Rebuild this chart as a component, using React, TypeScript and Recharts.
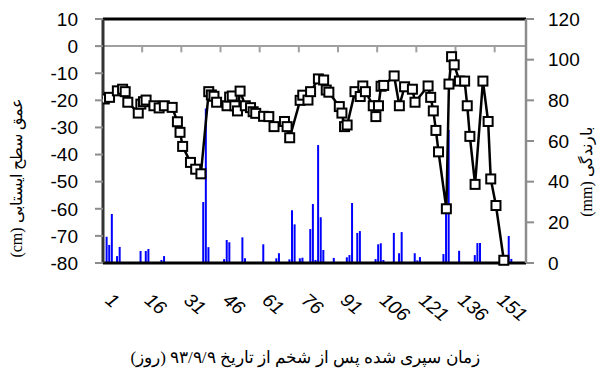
import { ComposedChart, Line, Bar, XAxis, YAxis, ReferenceLine } from "recharts";

// عمق سطح ایستابی (cm) — روزهای اندازه‌گیری و مقدار
const DEPTH_DAYS = [
  1, 3, 6, 8, 9, 10, 14, 15, 16, 17, 20, 22, 24, 27, 29, 30, 31, 34, 36, 38,
  41, 42, 43, 44, 48, 49, 50, 51, 52, 53, 55, 57, 58, 59, 62, 64, 66, 70, 71, 72,
  76, 77, 79, 80, 83, 85, 86, 87, 91, 92, 93, 94, 97, 99, 100, 101, 104, 105, 106, 107,
  108, 112, 114, 116, 119, 120, 125, 126, 127, 128, 129, 132, 133, 134, 135, 137, 139, 140, 141, 143,
  146, 148, 149, 151, 154,
];
const DEPTH = [
  -19.5, -18.9, -16.5, -15.9, -16.8, -20.7, -24.7, -21.4, -20.5, -19.9, -22, -22.8, -22, -22.6, -27.9, -31.8, -37, -42.9, -45.4, -47.1,
  -16.8, -18, -18.5, -20.7, -22, -18.8, -18.4, -22, -23.9, -16.6, -22, -22.7, -24.2, -24.8, -25.9, -26, -29.7, -27.8, -29.7, -33.8,
  -20, -18.1, -19.9, -16.8, -12.1, -12.5, -16.2, -17, -22.3, -24.7, -29.7, -29.1, -16.8, -18.6, -14.7, -16.8, -22, -26, -22, -14.8,
  -14.5, -11, -22, -15, -15.9, -20.7, -14.7, -18.9, -23.9, -31.1, -39, -60, -14, -3.9, -6.9, -12.9, -12.9, -22, -33.3, -51,
  -12.9, -27.8, -49, -58.8, -79,
];

// بارندگی (mm)
const RAIN_DAYS = [
  2, 3, 4, 6, 7, 11, 15, 17, 18, 23, 24, 35, 39, 40, 41, 45, 47, 48, 49, 54,
  55, 59, 62, 67, 68, 71, 72, 73, 74, 76, 77, 78, 80, 81, 82, 83, 84, 85, 89, 92,
  94, 95, 96, 98, 99, 105, 106, 107, 108, 109, 111, 112, 114, 115, 120, 121, 122, 125, 131, 132,
  133, 137, 141, 143, 144, 145, 156, 157,
];
const RAIN = [
  12.9, 8.9, 24.1, 3.4, 7.9, 0.4, 5.9, 5.9, 6.9, 1.5, 3.4, 0.4, 30, 76, 7.8, 0.4, 1.9, 11.3, 10.2, 12.6,
  2.3, 0.4, 9.2, 2.3, 4.8, 0.4, 1.8, 26, 19, 2.3, 2.6, 0.4, 16.7, 29, 1.5, 58, 22.5, 6.4, 2.5, 0.4,
  2.8, 3.9, 29.5, 14.8, 15.7, 1.9, 9.2, 9.7, 1.5, 0.4, 0.4, 14.8, 4.8, 15.2, 4.8, 1.3, 2.9, 0.4, 4.4, 26.4,
  65.4, 6, 0.4, 3.9, 9.8, 9.8, 13.3, 2,
];

const DAY_COUNT = 162;
const X_TICKS = [1, 16, 31, 46, 61, 76, 91, 106, 121, 136, 151];
const X_MARKS = [15.5, 30.5, 45.5, 60.5, 75.5, 90.5, 105.5, 120.5, 135.5, 150.5];
const DEPTH_TICKS = [-80, -70, -60, -50, -40, -30, -20, -10, 0, 10];
const RAIN_TICKS = [0, 20, 40, 60, 80, 100, 120];

const rows = Array.from({ length: DAY_COUNT }, (_, i) => {
  const day = i + 1;
  const di = DEPTH_DAYS.indexOf(day);
  const ri = RAIN_DAYS.indexOf(day);
  return { day, depth: di >= 0 ? DEPTH[di] : null, rain: ri >= 0 ? RAIN[ri] : null };
});

const NUM_FONT = "Arial, 'Liberation Sans', sans-serif";
const TITLE_FONT = "'Times New Roman', 'Liberation Serif', serif";
const GRAY = "#8c8c8c";

function SquareDot(p: any) {
  if (p.cx == null || p.cy == null || p.value == null) return <g key={p.key} />;
  return <rect key={p.key} x={p.cx - 4.5} y={p.cy - 4.5} width={9} height={9} fill="#fff" stroke="#000" strokeWidth={2} />;
}

// برچسب روز، چرخیده و مایل
function DayTick({ x, y, payload }: any) {
  const bx = x;
  const by = y + 13;
  return (
    <g>
      <text
        x={bx}
        y={by}
        transform={`rotate(40, ${bx}, ${by})`}
        textAnchor="start"
        fontSize={19}
        fontStyle="italic"
        fontFamily={NUM_FONT}
        fill="#000"
      >
        {payload.value}
      </text>
    </g>
  );
}

export default function App() {
  return (
    <div style={{ position: "absolute", left: 0, top: 0, width: 607, height: 379, background: "#fff" }}>
      <ComposedChart width={607} height={379} data={rows} margin={{ top: 19, right: 0, left: 0, bottom: 76 }}>
        <XAxis
          dataKey="day"
          type="number"
          domain={[0.5, DAY_COUNT + 0.5]}
          ticks={X_TICKS}
          height={40}
          axisLine={{ stroke: "#000", strokeWidth: 3 }}
          tickLine={false}
          tickSize={6}
          tickMargin={20}
          tick={DayTick}
          allowDataOverflow
        />
        <YAxis
          yAxisId="depth"
          orientation="left"
          width={103}
          domain={[-80, 10]}
          ticks={DEPTH_TICKS}
          interval={0}
          axisLine={{ stroke: "#333", strokeWidth: 3 }}
          tickLine={{ stroke: GRAY, strokeWidth: 2 }}
          tickSize={8}
          tickMargin={17}
          tick={{ fontSize: 19, fill: "#000", fontFamily: NUM_FONT }}
        />
        <YAxis
          yAxisId="rain"
          orientation="right"
          width={81}
          domain={[0, 120]}
          ticks={RAIN_TICKS}
          interval={0}
          axisLine={{ stroke: GRAY, strokeWidth: 2.5 }}
          tickLine={{ stroke: GRAY, strokeWidth: 2 }}
          tickSize={8}
          tickMargin={14}
          tick={{ fontSize: 19, fill: "#000", fontFamily: NUM_FONT }}
        />
        <ReferenceLine yAxisId="depth" y={0} stroke="#a0a0a0" strokeWidth={2} />
        {X_MARKS.map((m) => (
          <ReferenceLine
            key={m}
            yAxisId="depth"
            segment={[{ x: m, y: 0 }, { x: m, y: -2.3 }]}
            stroke="#a0a0a0"
            strokeWidth={2}
          />
        ))}
        <ReferenceLine yAxisId="depth" y={10} stroke="#000" strokeWidth={3} />
        <Bar yAxisId="rain" dataKey="rain" fill="#0000ff" barSize={2} isAnimationActive={false} />
        <Line
          yAxisId="depth"
          dataKey="depth"
          stroke="#000"
          strokeWidth={2.5}
          connectNulls
          dot={SquareDot}
          activeDot={false}
          isAnimationActive={false}
        />
      </ComposedChart>
      <svg width={607} height={379} style={{ position: "absolute", left: 0, top: 0, pointerEvents: "none" }}>
        <text
          x={16}
          y={178}
          transform="rotate(-90 16 178)"
          textAnchor="middle"
          dominantBaseline="central"
          direction="rtl"
          fontSize={16}
          fontFamily={TITLE_FONT}
        >
          عمق سطح ایستابی (cm)
        </text>
        <text
          x={586}
          y={172}
          transform="rotate(-90 586 172)"
          textAnchor="middle"
          dominantBaseline="central"
          direction="rtl"
          fontSize={16}
          fontFamily={TITLE_FONT}
        >
          بارندگی (mm)
        </text>
        <text x={305} y={363} textAnchor="middle" direction="rtl" fontSize={17} fontFamily={TITLE_FONT}>
          زمان سپری شده پس از شخم از تاریخ ۹۳/۹/۹ (روز)
        </text>
      </svg>
    </div>
  );
}
